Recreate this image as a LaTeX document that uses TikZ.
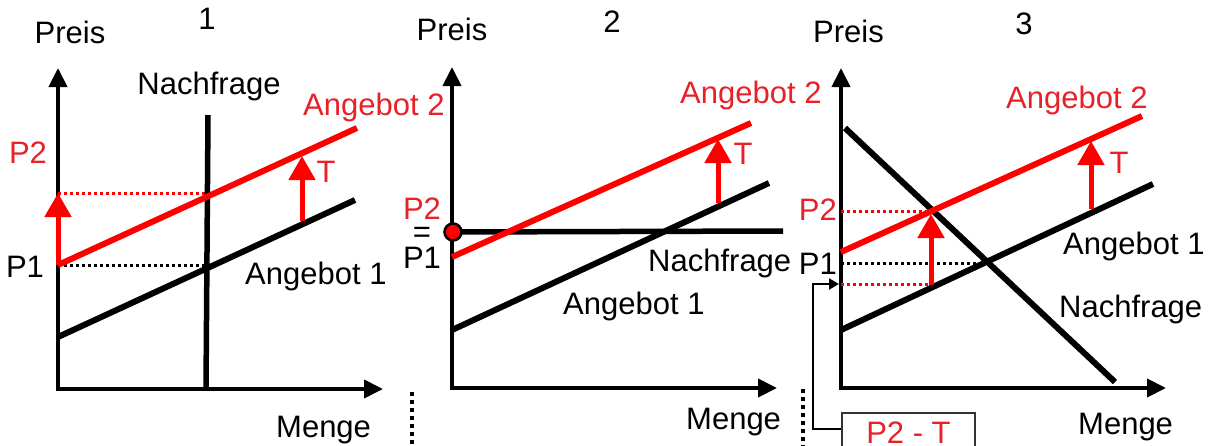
\documentclass[tikz,border=0pt]{standalone}
\usepackage{fontspec}
\setmainfont{Liberation Sans}
\usetikzlibrary{arrows.meta}
\definecolor{tred}{RGB}{232,32,40}
\begin{document}
\begin{tikzpicture}[x=1pt,y=-1pt,
 lbl/.style={inner sep=0pt, anchor=base west, font=\fontsize{31}{36}\selectfont},
 rlbl/.style={lbl, text=tred},
 axis/.style={line width=4pt, line join=miter, {Triangle[length=19pt,width=18pt]}-{Triangle[length=19pt,width=18pt]}},
 curve/.style={line width=6pt},
 rcurve/.style={line width=6pt, red},
 demand/.style={line width=5.5pt},
 tarrow/.style={line width=5pt, red, -{Triangle[length=24pt,width=26pt]}},
 rdot/.style={line width=3pt, red, dash pattern=on 3pt off 3pt},
 kdot/.style={line width=3pt, black, dash pattern=on 3pt off 3pt},
 sepline/.style={line width=3.5pt, dash pattern=on 4pt off 4pt},
 connector/.style={line width=2pt, -{Triangle[length=10pt,width=11pt]}},
 boxnode/.style={draw=black!80, line width=2pt, minimum width=133pt, minimum height=40pt, inner sep=0pt, anchor=north west, text=tred, font=\fontsize{31}{36}\selectfont},
]
\useasboundingbox (0,0) rectangle (1224,445);
\clip (0,0) rectangle (1224,445);

% ---------------- Panel 1 ----------------
\coordinate (y1) at (58,68);
\coordinate (o1) at (58,389);
\coordinate (x1) at (383,389);
\draw[axis] (y1) -- (o1) -- (x1);
\coordinate (a1s) at (58,337); \coordinate (a1e) at (355,200);
\coordinate (a2s) at (58,265); \coordinate (a2e) at (357,128);
\coordinate (n1t) at (208,115); \coordinate (n1b) at (206,389);
\coordinate (p1r) at (206,265); \coordinate (p2l) at (58,193); \coordinate (p2r) at (207,193);
\draw[kdot] (a2s) -- (p1r);
\draw[rdot] (p2l) -- (p2r);
\draw[demand] (n1t) -- (n1b);
\draw[curve] (a1s) -- (a1e);
\draw[rcurve] (a2s) -- (a2e);
\draw[tarrow] (a2s) -- (p2l);
\coordinate (t1b) at (302,221); \coordinate (t1t) at (302,156);
\draw[tarrow] (t1b) -- (t1t);

\node[lbl, anchor=base] (preis1) at (70,43) {Preis};
\node[lbl, anchor=base] (num1) at (207,29) {1};
\node[lbl, anchor=base] (nach1) at (209,94) {Nachfrage};
\node[rlbl] (ang2a) at (303,115) {Angebot 2};
\node[rlbl, anchor=base] (p2a) at (28,163) {P2};
\node[rlbl, anchor=base] (t1) at (326,182) {T};
\node[lbl, anchor=base] (p1a) at (25,277) {P1};
\node[lbl] (ang1a) at (245,284) {Angebot 1};
\node[lbl] (menge1) at (276,437) {Menge};

% separator
\coordinate (s1t) at (412,392); \coordinate (s1b) at (412,446);
\draw[sepline] (s1t) -- (s1b);

% ---------------- Panel 2 ----------------
\coordinate (y2) at (452,67);
\coordinate (o2) at (452,388);
\coordinate (x2) at (777,388);
\draw[axis] (y2) -- (o2) -- (x2);
\coordinate (b1s) at (452,330); \coordinate (b1e) at (769,183);
\coordinate (b2s) at (452,257); \coordinate (b2e) at (751,123);
\coordinate (m2s) at (453,232); \coordinate (m2e) at (783,231);
\draw[curve] (b1s) -- (b1e);
\draw[demand] (m2s) -- (m2e);
\draw[rcurve] (b2s) -- (b2e);
\node[circle, fill=red, draw=black, line width=2.5pt, minimum size=17pt, inner sep=0pt] (dot2) at (m2s) {};
\coordinate (t2b) at (718,203); \coordinate (t2t) at (718,139);
\draw[tarrow] (t2b) -- (t2t);

\node[lbl, anchor=base] (preis2) at (452,40) {Preis};
\node[lbl, anchor=base] (num2) at (612,32) {2};
\node[rlbl] (ang2b) at (680,103) {Angebot 2};
\node[rlbl, anchor=base] (t2) at (743,164) {T};
\node[rlbl, anchor=base] (p2b) at (422,219) {P2};
\node[lbl, anchor=center] (eq2) at (422,235) {=};
\node[lbl, anchor=base] (p1b) at (422,268) {P1};
\node[lbl] (nach2) at (648,271) {Nachfrage};
\node[lbl] (ang1b) at (563,314) {Angebot 1};
\node[lbl] (menge2) at (686,429) {Menge};

% separator
\coordinate (s2t) at (803,389); \coordinate (s2b) at (803,446);
\draw[sepline] (s2t) -- (s2b);

% ---------------- Panel 3 ----------------
\coordinate (y3) at (841,68);
\coordinate (o3) at (841,388);
\coordinate (x3) at (1166,388);
\draw[axis] (y3) -- (o3) -- (x3);
\coordinate (q2l) at (841,211); \coordinate (q2r) at (930,211);
\coordinate (q1l) at (841,263); \coordinate (q1r) at (985,263);
\coordinate (qtl) at (841,284); \coordinate (qtr) at (933,284);
\draw[rdot] (q2l) -- (q2r);
\draw[kdot] (q1l) -- (q1r);
\draw[rdot] (qtl) -- (qtr);
\coordinate (c1s) at (841,330); \coordinate (c1e) at (1153,184);
\coordinate (c2s) at (841,252); \coordinate (c2e) at (1142,116);
\coordinate (d3s) at (845,128); \coordinate (d3e) at (1115,382);
\draw[curve] (d3s) -- (d3e);
\draw[curve] (c1s) -- (c1e);
\draw[rcurve] (c2s) -- (c2e);
\coordinate (t3ab) at (931,285); \coordinate (t3at) at (931,214);
\draw[tarrow] (t3ab) -- (t3at);
\coordinate (t3b) at (1091,209); \coordinate (t3t) at (1091,141);
\draw[tarrow] (t3b) -- (t3t);

\node[lbl] (preis3) at (813,42) {Preis};
\node[lbl, anchor=base] (num3) at (1024,34) {3};
\node[rlbl] (ang2c) at (1006,108) {Angebot 2};
\node[rlbl, anchor=base] (t3) at (1119,173) {T};
\node[rlbl, anchor=base east] (p2c) at (837,220) {P2};
\node[lbl, anchor=base east] (p1c) at (837,274) {P1};
\node[lbl] (ang1c) at (1063,254) {Angebot 1};
\node[lbl] (nach3) at (1059,317) {Nachfrage};
\node[lbl] (menge3) at (1078,434) {Menge};

\node[boxnode] (box) at (841,412) {P2 - T};
\coordinate (tip3) at (839,284);
\draw[connector] ([yshift=4pt]box.west) -- ++(-28,0) |- (tip3);
\end{tikzpicture}
\end{document}
